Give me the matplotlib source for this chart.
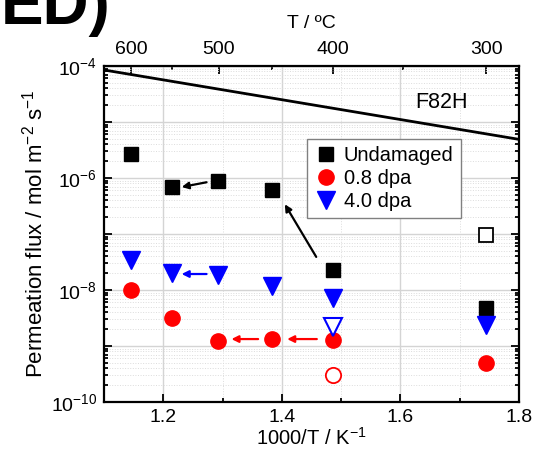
import numpy as np
import matplotlib
matplotlib.use('agg')
import matplotlib.pyplot as plt
from matplotlib.ticker import LogLocator, FuncFormatter, FixedLocator, NullFormatter

plt.rcParams['font.family'] = ['Liberation Sans', 'DejaVu Sans']
plt.rcParams['mathtext.fontset'] = 'custom'
plt.rcParams['mathtext.rm'] = 'Liberation Sans'
plt.rcParams['mathtext.it'] = 'Liberation Sans:italic'
plt.rcParams['mathtext.default'] = 'regular'

# 1000/T positions (600, 550, 500, 450, 400, 300 C)
inv_T = [1.145, 1.215, 1.293, 1.383, 1.486, 1.745]
undamaged = [2.7e-6, 7.0e-7, 8.8e-7, 6.0e-7, 2.3e-8, 4.7e-9]
dpa08 = [1.0e-8, 3.2e-9, 1.23e-9, 1.31e-9, 1.3e-9, 5.0e-10]
dpa40 = [3.5e-8, 2.0e-8, 1.85e-8, 1.18e-8, 7.1e-9, 2.37e-9]

# open symbols
und_open_x, und_open_y = [1.745], [9.6e-8]
d08_open_x, d08_open_y = [1.486], [3.0e-10]
d40_open_x, d40_open_y = [1.486], [2.2e-9]

# F82H reference line
f82h_x = [1.1, 1.8]
f82h_y = [8.5e-5, 4.9e-6]

# arrows: (tail, head, color)
arrows = [((1.273, 8.4e-7), (1.231, 6.9e-7), 'black'),
          ((1.458, 3.9e-8), (1.405, 3.4e-7), 'black'),
          ((1.273, 1.93e-8), (1.231, 1.93e-8), 'blue'),
          ((1.360, 1.33e-9), (1.315, 1.33e-9), 'red'),
          ((1.459, 1.33e-9), (1.409, 1.33e-9), 'red')]

fig = plt.figure(figsize=(5.33, 4.55), dpi=100)
ax = fig.add_axes([0.1951, 0.1165, 0.7786, 0.7384])

ax.plot(f82h_x, f82h_y, color='black', lw=2)
ax.text(1.67, 10**-4.66, 'F82H', fontsize=15.5, ha='center', va='center')

for tail, head, c in arrows:
    ax.annotate('', xy=head, xytext=tail,
                arrowprops=dict(arrowstyle='-|>', color=c, lw=1.6, mutation_scale=10,
                                shrinkA=0, shrinkB=0))

ax.plot(inv_T, undamaged, 's', color='black', ms=10, label='Undamaged', zorder=5)
ax.plot(inv_T, dpa08, 'o', color='red', ms=11, mec='red', label='0.8 dpa', zorder=5)
ax.plot(inv_T, dpa40, 'v', color='blue', ms=13, label='4.0 dpa', zorder=5)

ax.plot(und_open_x, und_open_y, 's', mfc='white', mec='black', mew=1.3, ms=10, zorder=5)
ax.plot(d08_open_x, d08_open_y, 'o', mfc='white', mec='red', mew=1.3, ms=11, zorder=5)
ax.plot(d40_open_x, d40_open_y, 'v', mfc='white', mec='blue', mew=1.5, ms=13, zorder=5)

ax.set_yscale('log')
ax.set_xlim(1.1, 1.8)
ax.set_ylim(1e-10, 1e-4)

ax.xaxis.set_major_locator(FixedLocator([1.2, 1.4, 1.6, 1.8]))
ax.xaxis.set_minor_locator(FixedLocator([1.3, 1.5, 1.7]))
ax.yaxis.set_major_locator(LogLocator(base=10, numticks=20))
ax.yaxis.set_minor_locator(LogLocator(base=10, subs=np.arange(2, 10), numticks=20))
ax.yaxis.set_minor_formatter(NullFormatter())

def ylab(v, pos):
    e = int(round(np.log10(v)))
    return r'$10^{%d}$' % e if e % 2 == 0 else ''
ax.yaxis.set_major_formatter(FuncFormatter(ylab))

ax.grid(which='major', color='#d4d4d4', lw=1)
ax.grid(which='minor', color='#dcdcdc', lw=0.7, ls=':')
ax.set_axisbelow(True)

ax.tick_params(which='both', direction='in', right=True, labelsize=14, width=1.3)
ax.tick_params(which='major', length=6)
ax.tick_params(which='minor', length=3)
ax.tick_params(axis='x', which='major', pad=5)
ax.tick_params(axis='y', which='major', pad=5)
for s in ax.spines.values():
    s.set_linewidth(1.6)

ax.set_xlabel(r'1000/T / K$^{-1}$', fontsize=14.5, labelpad=1)
ax.set_ylabel(r'Permeation flux / mol m$^{-2}$ s$^{-1}$', fontsize=16, labelpad=2)

top = ax.secondary_xaxis('top', functions=(lambda x: 1000.0 / np.asarray(x) - 273.15,
                                             lambda t: 1000.0 / (np.asarray(t) + 273.15)))
top.xaxis.set_major_locator(FixedLocator([600, 500, 400, 300]))
top.xaxis.set_minor_locator(FixedLocator([550, 450, 350]))
top.tick_params(which='both', direction='in', labelsize=14, width=1.3, pad=6)
top.tick_params(which='major', length=6)
top.tick_params(which='minor', length=3)
top.set_xlabel('T / ºC', fontsize=14, labelpad=9)

leg = ax.legend(loc='upper left', bbox_to_anchor=(0.488, 0.783), borderaxespad=0,
                fontsize=14.5, fancybox=False, edgecolor='#808080', framealpha=1,
                handletextpad=0.3, handlelength=1.2, borderpad=0.35, labelspacing=0.2)
leg.get_frame().set_linewidth(1)

fig.text(0.207, 0.948, 'ED)', fontsize=46, fontweight='bold', ha='right', va='baseline')

fig.savefig('out.png', dpi=100)
